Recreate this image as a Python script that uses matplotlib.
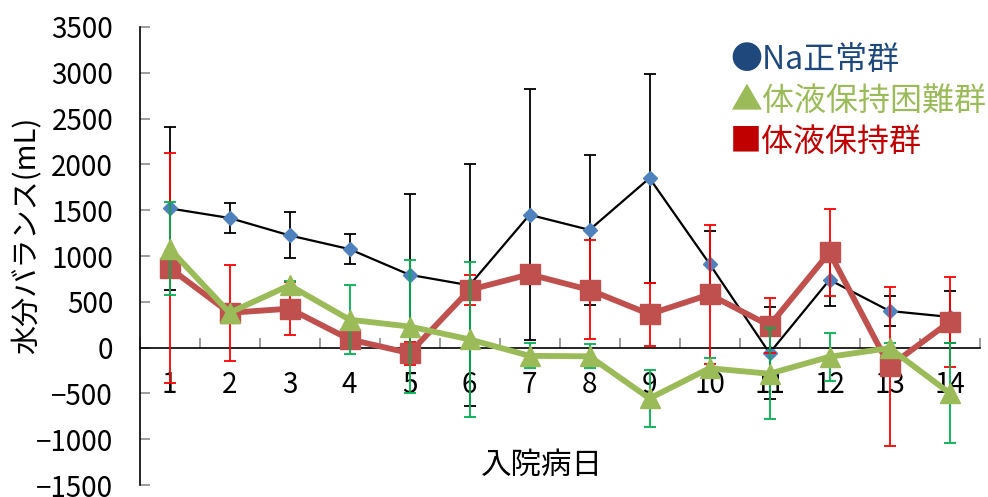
import matplotlib
matplotlib.use("Agg")
import matplotlib.pyplot as plt
import numpy as np

plt.rcParams["font.family"] = ["Noto Sans CJK JP", "DejaVu Sans"]

# hospital day
days = np.arange(1, 15)

# Na正常群 (mean, SD)
na_mean = [1520, 1415, 1225, 1075, 795, 680, 1450, 1285, 1850, 915, -60, 740, 400, 335]
na_sd = [890, 160, 250, 160, 880, 1320, 1370, 820, 1140, 355, 500, 290, 165, 280]

# 体液保持群 (mean, SD)
keep_mean = [870, 380, 425, 90, -60, 630, 800, 630, 365, 580, 240, 1040, -205, 280]
keep_sd = [1255, 525, 290, 80, 125, 160, 60, 540, 345, 755, 300, 475, 865, 495]

# 体液保持困難群 (mean, SD)
hard_mean = [1080, 380, 680, 305, 230, 90, -90, -95, -555, -225, -285, -100, -5, -495]
hard_sd = [510, 50, 45, 375, 730, 850, 135, 130, 315, 110, 495, 262, 60, 545]

legend_items = [
    ("●Na正常群", "#1F497D"),
    ("▲体液保持困難群", "#9BBB59"),
    ("■体液保持群", "#C00000"),
]

fig = plt.figure(figsize=(9.88, 4.97), dpi=100)
ax = fig.add_axes([0.1412, 0.0241, 0.8502, 0.9216])

# Na group: thin black line, blue diamonds
ax.errorbar(days, na_mean, yerr=na_sd, fmt="none", ecolor="black",
            elinewidth=1.3, capsize=4, capthick=1.3, zorder=2)
ax.plot(days, na_mean, color="black", lw=1.6, marker="D", ms=7,
        mfc="#4F81BD", mec="#4F81BD", zorder=2.5)

# fluid retention group
ax.errorbar(days, keep_mean, yerr=keep_sd, fmt="none", ecolor="#FF0000",
            elinewidth=1.3, capsize=4, capthick=1.3, zorder=3)
ax.plot(days, keep_mean, color="#C0504D", lw=4.2, marker="s", ms=14,
        mfc="#C0504D", mec="#C0504D", zorder=3.5)

# difficult fluid retention group
ax.errorbar(days, hard_mean, yerr=hard_sd, fmt="none", ecolor="#00B050",
            elinewidth=1.3, capsize=4, capthick=1.3, zorder=4)
ax.plot(days, hard_mean, color="#9BBB59", lw=4.2, marker="^", ms=15,
        mfc="#9BBB59", mec="#9BBB59", zorder=4.5)

ax.set_xlim(0.5, 14.5)
ax.set_ylim(-1500, 3500)
ax.set_yticks(np.arange(-1500, 3501, 500))

ax.spines["top"].set_visible(False)
ax.spines["right"].set_visible(False)
ax.spines["bottom"].set_position(("data", 0))
ax.spines["left"].set_linewidth(1.2)
ax.spines["bottom"].set_linewidth(1.2)

ax.set_xticks(days)
ax.set_xticklabels([str(d) for d in days])
ax.set_xticks(np.arange(0.5, 15, 1), minor=True)
ax.tick_params(axis="x", which="major", length=0, pad=16, labelsize=20)
ax.tick_params(axis="x", which="minor", direction="in", length=7,
               color="#8C8C8C", width=1.2)
ax.tick_params(axis="y", direction="in", length=7, color="#8C8C8C",
               width=1.2, pad=19, labelsize=20)

fig.text(0.028, 0.527, "水分バランス(mL)", fontsize=21, rotation=90,
         ha="center", va="center")
fig.text(0.548, 0.064, "入院病日", fontsize=22, ha="center", va="center")

for i, (label, color) in enumerate(legend_items):
    fig.text(0.739, 0.880 - i * 0.083, label, fontsize=23, color=color,
             ha="left", va="center")

fig.savefig("out.png", dpi=100)
